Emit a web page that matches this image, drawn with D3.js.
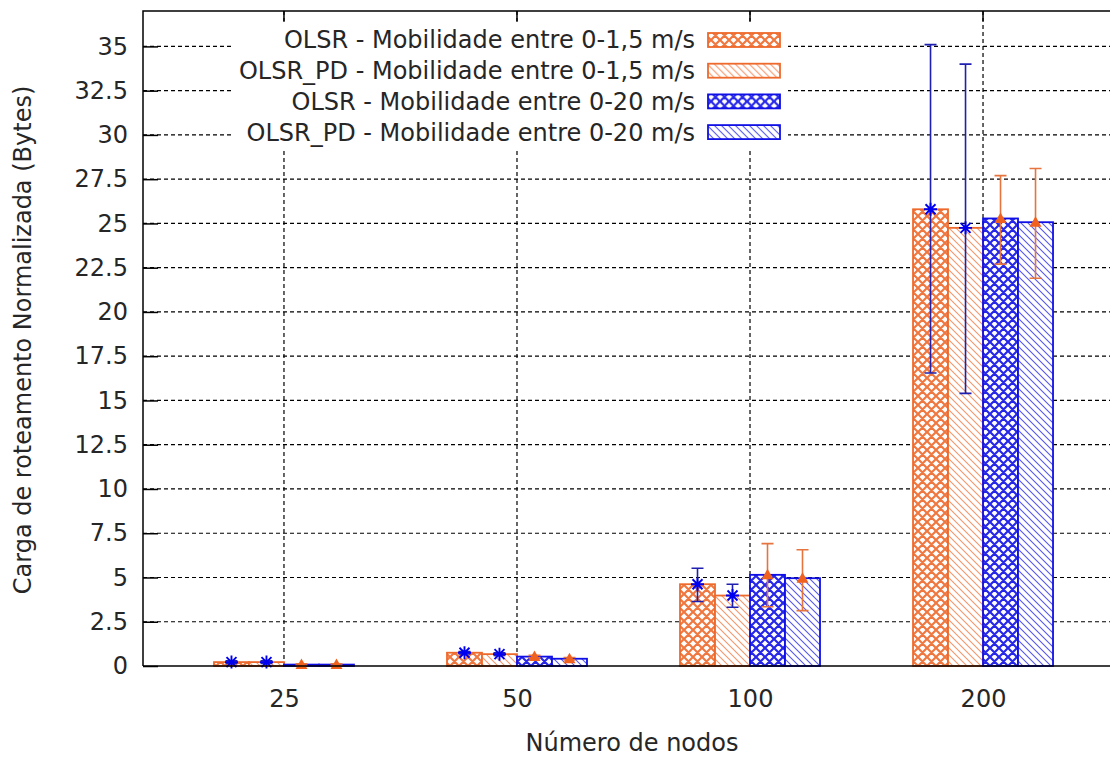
<!DOCTYPE html>
<html>
<head>
<meta charset="utf-8">
<script src="https://cdn.jsdelivr.net/npm/d3@7"></script>
<style>
    body { margin: 0; background: #fff; }
    svg text { font-family: "DejaVu Sans", sans-serif; fill: #262626; }
</style>
</head>
<body>
<div id="chart"></div>
<script>
// categories (number of nodes)
const categories = ["25", "50", "100", "200"];

const seriesNames = [
    "OLSR - Mobilidade entre 0-1,5 m/s",
    "OLSR_PD - Mobilidade entre 0-1,5 m/s",
    "OLSR - Mobilidade entre 0-20 m/s",
    "OLSR_PD - Mobilidade entre 0-20 m/s"
];

// bar heights
const olsrLow = [0.22, 0.75, 4.62, 25.8];
const olsrPdLow = [0.22, 0.67, 3.98, 24.75];
const olsrHigh = [0.08, 0.53, 5.15, 25.28];
const olsrPdHigh = [0.08, 0.41, 4.96, 25.07];

// error bar ranges [min, max]
const olsrLowErr = [[0.15, 0.29], [0.68, 0.82], [3.64, 5.52], [16.55, 35.1]];
const olsrPdLowErr = [[0.15, 0.29], [0.6, 0.74], [3.32, 4.62], [15.4, 34.0]];
const olsrHighErr = [[0.03, 0.13], [0.46, 0.6], [3.35, 6.91], [22.7, 27.7]];
const olsrPdHighErr = [[0.03, 0.13], [0.34, 0.48], [3.13, 6.57], [21.9, 28.1]];

const yTicks = [0, 2.5, 5, 7.5, 10, 12.5, 15, 17.5, 20, 22.5, 25, 27.5, 30, 32.5, 35];

const ORANGE = "#ee6a2c";
const BLUE = "#1010e6";
const ERR_BLUE = "#2020b0";
const ERR_ORANGE = "#e5743e";

class BarChart {
    constructor(parentElement) {
        this.parentElement = parentElement;
        this.initVis();
    }

    initVis() {
        let vis = this;

        vis.width = 1110;
        vis.height = 758;
        vis.margin = {top: 11, left: 143, bottom: 92};
        vis.fontSize = 24;

        vis.svg = d3.select("#" + vis.parentElement).append("svg")
            .attr("width", vis.width)
            .attr("height", vis.height);

        vis.x = d3.scalePoint()
            .domain(categories)
            .range([vis.margin.left, 1124])
            .padding(0.605);

        vis.xs = d3.scaleBand()
            .domain(d3.range(4))
            .range([-70, 70]);

        vis.y = d3.scaleLinear()
            .domain([0, 37])
            .range([vis.height - vis.margin.bottom, vis.margin.top]);

        vis.series = [
            {name: seriesNames[0], values: olsrLow, err: olsrLowErr, color: ORANGE, fill: "url(#cross-orange)", errColor: ERR_BLUE, marker: "star"},
            {name: seriesNames[1], values: olsrPdLow, err: olsrPdLowErr, color: ORANGE, fill: "url(#hatch-orange)", errColor: ERR_BLUE, marker: "star"},
            {name: seriesNames[2], values: olsrHigh, err: olsrHighErr, color: BLUE, fill: "url(#cross-blue)", errColor: ERR_ORANGE, marker: "tri"},
            {name: seriesNames[3], values: olsrPdHigh, err: olsrPdHighErr, color: BLUE, fill: "url(#hatch-blue)", errColor: ERR_ORANGE, marker: "tri"}
        ];

        vis.makePatterns();
        vis.updateVis();
    }

    makePatterns() {
        let vis = this;
        let defs = vis.svg.append("defs");

        [["orange", ORANGE], ["blue", BLUE]].forEach(function(p) {
            let cross = defs.append("pattern")
                .attr("id", "cross-" + p[0])
                .attr("patternUnits", "userSpaceOnUse")
                .attr("width", 9).attr("height", 9);
            cross.append("rect").attr("width", 9).attr("height", 9).attr("fill", "#fff");
            cross.append("path")
                .attr("d", "M0,0L9,9M9,0L0,9M-1,8L1,10M8,-1L10,1M8,10L10,8M-1,1L1,-1")
                .attr("stroke", p[1]).attr("stroke-width", 2.2)
                .attr("stroke-opacity", 0.9);

            let hatch = defs.append("pattern")
                .attr("id", "hatch-" + p[0])
                .attr("patternUnits", "userSpaceOnUse")
                .attr("width", 7).attr("height", 7);
            hatch.append("rect").attr("width", 7).attr("height", 7).attr("fill", "#fff");
            hatch.append("path")
                .attr("d", "M0,0L7,7M-1,6L1,8M6,-1L8,1")
                .attr("stroke", p[1]).attr("stroke-width", 1.1)
                .attr("stroke-opacity", 0.7);
        });
    }

    updateVis() {
        let vis = this;
        let y0 = vis.y(0);
        let left = vis.margin.left;
        let top = vis.margin.top;

        // grid lines
        let grid = vis.svg.append("g").attr("class", "grid");
        grid.selectAll(".hgrid")
            .data(yTicks.filter(d => d > 0))
            .enter().append("line")
            .attr("x1", left).attr("x2", vis.width)
            .attr("y1", d => vis.y(d)).attr("y2", d => vis.y(d))
            .attr("stroke", "#000").attr("stroke-width", 1.2)
            .attr("stroke-dasharray", "4,3");
        grid.selectAll(".vgrid")
            .data(categories)
            .enter().append("line")
            .attr("x1", d => vis.x(d)).attr("x2", d => vis.x(d))
            .attr("y1", top).attr("y2", y0)
            .attr("stroke", "#000").attr("stroke-width", 1.2)
            .attr("stroke-dasharray", "4,3");

        // bars
        vis.series.forEach(function(s, si) {
            vis.svg.append("g").selectAll("rect")
                .data(s.values)
                .enter().append("rect")
                .attr("x", (d, i) => vis.x(categories[i]) + vis.xs(si))
                .attr("y", d => vis.y(d))
                .attr("width", vis.xs.bandwidth())
                .attr("height", d => y0 - vis.y(d))
                .attr("fill", s.fill)
                .attr("stroke", s.color)
                .attr("stroke-width", 1.8);
        });

        // error bars and markers
        vis.series.forEach(function(s, si) {
            let g = vis.svg.append("g");
            s.err.forEach(function(e, i) {
                let cx = vis.x(categories[i]) + vis.xs(si) + vis.xs.bandwidth() / 2;
                let cy = vis.y(s.values[i]);
                g.append("path")
                    .attr("d", `M${cx},${vis.y(e[0])}V${vis.y(e[1])}M${cx - 6},${vis.y(e[0])}h12M${cx - 6},${vis.y(e[1])}h12`)
                    .attr("stroke", s.errColor).attr("stroke-width", 1.6).attr("fill", "none");
                if (s.marker === "star") {
                    g.append("path")
                        .attr("d", `M${cx - 6.5},${cy}h13M${cx},${cy - 6.5}v13M${cx - 5},${cy - 5}l10,10M${cx - 5},${cy + 5}l10,-10`)
                        .attr("stroke", "#0000f0").attr("stroke-width", 1.9);
                } else {
                    g.append("path")
                        .attr("d", `M${cx - 6},${cy + 4.5}L${cx + 6},${cy + 4.5}L${cx},${cy - 6}Z`)
                        .attr("fill", "#f0601e");
                }
            });
        });

        // border and ticks
        vis.svg.append("path")
            .attr("d", `M${left},${y0}V${top}H${vis.width}`)
            .attr("fill", "none").attr("stroke", "#000").attr("stroke-width", 1.5);
        vis.svg.append("line")
            .attr("x1", left).attr("x2", vis.width)
            .attr("y1", y0).attr("y2", y0)
            .attr("stroke", "#000").attr("stroke-width", 1.5);

        let yAxis = d3.axisLeft(vis.y)
            .tickValues(yTicks)
            .tickSizeInner(-15)
            .tickSizeOuter(0)
            .tickPadding(15)
            .tickFormat(d3.format("~g"));
        let yAxisGroup = vis.svg.append("g")
            .attr("class", "y-axis axis")
            .attr("transform", `translate(${left},0)`)
            .call(yAxis);
        yAxisGroup.select(".domain").remove();
        yAxisGroup.selectAll("line").attr("stroke", "#000").attr("stroke-width", 1.5);
        yAxisGroup.selectAll("text").attr("font-size", vis.fontSize).attr("fill", "#262626");

        let xAxis = d3.axisBottom(vis.x)
            .tickSize(0)
            .tickPadding(24);
        let xAxisGroup = vis.svg.append("g")
            .attr("class", "x-axis axis")
            .attr("transform", `translate(0,${y0})`)
            .call(xAxis);
        xAxisGroup.select(".domain").remove();
        xAxisGroup.selectAll("text").attr("font-size", vis.fontSize).attr("fill", "#262626");

        // mirror tics on top border
        vis.svg.append("g").selectAll("line")
            .data(categories)
            .enter().append("line")
            .attr("x1", d => vis.x(d)).attr("x2", d => vis.x(d))
            .attr("y1", top).attr("y2", top + 10)
            .attr("stroke", "#000").attr("stroke-width", 1.5);

        // legend
        let legend = vis.svg.append("g").attr("class", "legend");
        legend.append("rect")
            .attr("x", 232).attr("y", 24)
            .attr("width", 556).attr("height", 124)
            .attr("fill", "#fff");
        let rows = legend.selectAll(".row")
            .data(vis.series)
            .enter().append("g")
            .attr("transform", (d, i) => `translate(0,${40 + i * 30.7})`);
        rows.append("text")
            .attr("x", 695).attr("dy", "0.35em")
            .attr("text-anchor", "end")
            .attr("font-size", vis.fontSize)
            .text(d => d.name);
        rows.append("rect")
            .attr("x", 708).attr("y", -7)
            .attr("width", 72).attr("height", 14)
            .attr("fill", d => d.fill)
            .attr("stroke", d => d.color)
            .attr("stroke-width", 1.8);

        // axis titles
        vis.svg.append("text")
            .attr("x", 632).attr("y", 751)
            .attr("text-anchor", "middle")
            .attr("font-size", vis.fontSize)
            .text("Número de nodos");
        vis.svg.append("text")
            .attr("transform", "translate(31,340) rotate(-90)")
            .attr("text-anchor", "middle")
            .attr("font-size", vis.fontSize)
            .text("Carga de roteamento Normalizada (Bytes)");
    }
}

new BarChart("chart");
</script>
</body>
</html>
